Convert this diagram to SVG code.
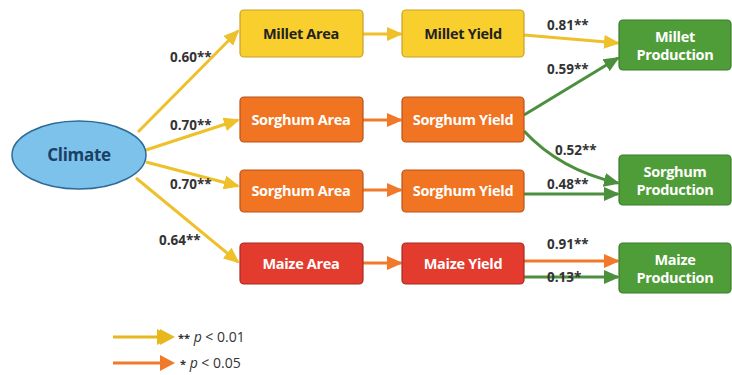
<svg xmlns="http://www.w3.org/2000/svg" width="732" height="375" viewBox="0 0 732 375">
<style>
.box{stroke-width:1.2}
.y{fill:#F8CF2C;stroke:#C9A12A}
.o{fill:#F07421;stroke:#B8531A}
.r{fill:#E33B2E;stroke:#A82A22}
.g{fill:#4F9D39;stroke:#3B7A2B}
.t{font-family:"Open Sans","Liberation Sans",sans-serif;font-weight:bold;font-size:14.5px;text-anchor:middle;letter-spacing:-0.3px}
.tw{fill:#ffffff}
.tk{fill:#222222}
.lab{font-family:"Open Sans","Liberation Sans",sans-serif;font-weight:bold;font-size:13.5px;fill:#333333}
.ay{stroke:#EEC02A;stroke-width:3;fill:none}
.ao{stroke:#F07A2A;stroke-width:3;fill:none}
.ag{stroke:#4C8F3D;stroke-width:3;fill:none}
.leg{font-family:"Open Sans","Liberation Sans",sans-serif;font-size:14px;fill:#333333}
</style>
<defs>
<marker id="hy" markerUnits="userSpaceOnUse" markerWidth="16" markerHeight="14" refX="14" refY="7" orient="auto"><path d="M0,0 L16,7 L0,14 Z" fill="#EEC02A"/></marker>
<marker id="ho" markerUnits="userSpaceOnUse" markerWidth="16" markerHeight="14" refX="14" refY="7" orient="auto"><path d="M0,0 L16,7 L0,14 Z" fill="#F07A2A"/></marker>
<marker id="hg" markerUnits="userSpaceOnUse" markerWidth="16" markerHeight="14" refX="14" refY="7" orient="auto"><path d="M0,0 L16,7 L0,14 Z" fill="#4C8F3D"/></marker>
</defs>
<rect width="732" height="375" fill="#ffffff"/>
<g id="connectors">
<line class="ay" x1="138" y1="132" x2="238" y2="31" marker-end="url(#hy)"/>
<line class="ay" x1="146" y1="150" x2="238" y2="120" marker-end="url(#hy)"/>
<line class="ay" x1="146" y1="162" x2="238" y2="186" marker-end="url(#hy)"/>
<line class="ay" x1="136" y1="178" x2="238" y2="262" marker-end="url(#hy)"/>
<line class="ay" x1="363" y1="34" x2="401" y2="34" marker-end="url(#hy)"/>
<line class="ao" x1="363" y1="120" x2="401" y2="120" marker-end="url(#ho)"/>
<line class="ao" x1="363" y1="190" x2="401" y2="190" marker-end="url(#ho)"/>
<line class="ao" x1="363" y1="263" x2="401" y2="263" marker-end="url(#ho)"/>
<line class="ay" x1="524" y1="35" x2="618" y2="43" marker-end="url(#hy)"/>
<line class="ag" x1="524" y1="115" x2="618" y2="58" marker-end="url(#hg)"/>
<path class="ag" d="M524,131 Q560,170 618,183" marker-end="url(#hg)"/>
<line class="ag" x1="524" y1="194" x2="618" y2="194" marker-end="url(#hg)"/>
<line class="ao" x1="524" y1="261" x2="618" y2="261" marker-end="url(#ho)"/>
<line class="ag" x1="524" y1="277" x2="618" y2="277" marker-end="url(#hg)"/>
</g>
<g id="labels">
<text class="lab" x="170" y="62">0.60**</text>
<text class="lab" x="170" y="130">0.70**</text>
<text class="lab" x="170" y="189">0.70**</text>
<text class="lab" x="159" y="245">0.64**</text>
<text class="lab" x="547" y="30">0.81**</text>
<text class="lab" x="547" y="74">0.59**</text>
<text class="lab" x="555" y="155">0.52**</text>
<text class="lab" x="547" y="189">0.48**</text>
<text class="lab" x="547" y="249">0.91**</text>
<text class="lab" x="547" y="282">0.13*</text>
</g>
<g id="climate">
<ellipse cx="79" cy="155" rx="67" ry="34" fill="#7CC2EA" stroke="#2D6B96" stroke-width="1.5"/>
<text class="t" x="79" y="161" fill="#1B3F66" style="font-size:17px">Climate</text>
</g>
<g id="millet-area"><rect class="box y" x="240" y="10" width="123" height="47" rx="4"/><text class="t tk" x="301" y="39">Millet Area</text></g>
<g id="millet-yield"><rect class="box y" x="402" y="10" width="122" height="47" rx="4"/><text class="t tk" x="463" y="39">Millet Yield</text></g>
<g id="sorghum-area-1"><rect class="box o" x="240" y="97" width="123" height="45" rx="4"/><text class="t tw" x="301" y="125">Sorghum Area</text></g>
<g id="sorghum-yield-1"><rect class="box o" x="402" y="97" width="122" height="45" rx="4"/><text class="t tw" x="463" y="125">Sorghum Yield</text></g>
<g id="sorghum-area-2"><rect class="box o" x="240" y="170" width="123" height="42" rx="4"/><text class="t tw" x="301" y="196">Sorghum Area</text></g>
<g id="sorghum-yield-2"><rect class="box o" x="402" y="170" width="122" height="42" rx="4"/><text class="t tw" x="463" y="196">Sorghum Yield</text></g>
<g id="maize-area"><rect class="box r" x="240" y="243" width="123" height="41" rx="4"/><text class="t tw" x="301" y="269">Maize Area</text></g>
<g id="maize-yield"><rect class="box r" x="402" y="243" width="122" height="41" rx="4"/><text class="t tw" x="463" y="269">Maize Yield</text></g>
<g id="millet-production"><rect class="box g" x="619" y="20" width="112" height="50" rx="4"/><text class="t tw" x="675" y="42">Millet</text><text class="t tw" x="675" y="60">Production</text></g>
<g id="sorghum-production"><rect class="box g" x="619" y="155" width="112" height="50" rx="4"/><text class="t tw" x="675" y="177">Sorghum</text><text class="t tw" x="675" y="195">Production</text></g>
<g id="maize-production"><rect class="box g" x="619" y="243" width="112" height="50" rx="4"/><text class="t tw" x="675" y="265">Maize</text><text class="t tw" x="675" y="283">Production</text></g>
<g id="legend">
<line x1="113" y1="337" x2="160" y2="337" stroke="#E6B81E" stroke-width="3"/>
<path d="M157,329 L172,337 L157,345 Z" fill="#E6B81E"/>
<path d="M160,329 L175,337 L160,345 Z" fill="#E6B81E"/>
<line x1="113" y1="363" x2="165" y2="363" stroke="#F07A2A" stroke-width="3"/>
<path d="M160,355 L175,363 L160,371 Z" fill="#F07A2A"/>
<text class="leg" x="178" y="342"><tspan font-weight="bold" font-size="11">**</tspan> <tspan font-style="italic">p</tspan> &lt; 0.01</text>
<text class="leg" x="180" y="368"><tspan font-weight="bold" font-size="11">*</tspan> <tspan font-style="italic">p</tspan> &lt; 0.05</text>
</g>
</svg>
